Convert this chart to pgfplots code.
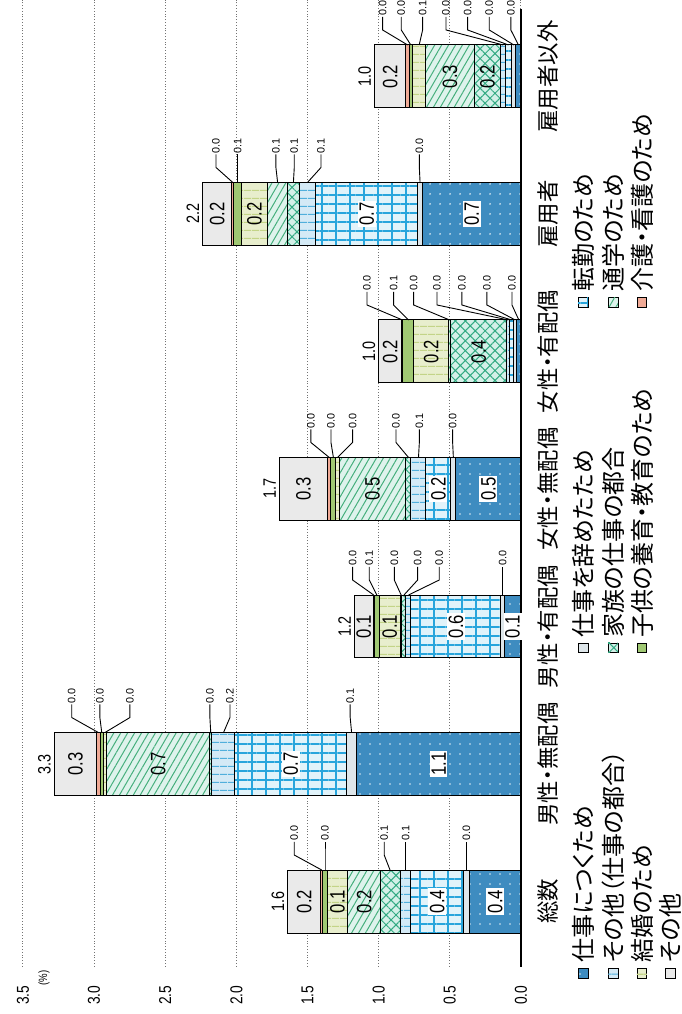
\documentclass[border=0pt]{standalone}
\usepackage{fontspec}
\setmainfont{Liberation Sans}[FakeStretch=0.8]
\newfontfamily\jp{Noto Sans CJK JP}[RawFeature=+palt]
\newfontfamily\nf{Liberation Sans}
\usepackage{pgfplots}
\usepackage{pgfplotstable}
\pgfplotsset{compat=1.18}
\usetikzlibrary{patterns.meta}

\definecolor{cA}{RGB}{62,140,192}
\definecolor{cB}{RGB}{222,230,234}
\definecolor{cC}{RGB}{225,243,250}
\definecolor{cCl}{RGB}{40,165,220}
\definecolor{cD}{RGB}{212,234,246}
\definecolor{cDl}{RGB}{80,175,220}
\definecolor{cE}{RGB}{212,240,232}
\definecolor{cEl}{RGB}{50,170,130}
\definecolor{cF}{RGB}{222,243,236}
\definecolor{cFl}{RGB}{70,175,125}
\definecolor{cG}{RGB}{232,238,205}
\definecolor{cGl}{RGB}{195,212,135}
\definecolor{cH}{RGB}{160,200,115}
\definecolor{cI}{RGB}{240,170,150}
\definecolor{cJ}{RGB}{234,234,234}

\tikzset{
  sA/.style={fill=cA, draw=black, line width=0.5pt, postaction={pattern={Dots[distance=5pt, radius=0.45pt]}, pattern color=white!80!cA}},
  sB/.style={fill=cB, draw=black, line width=0.5pt},
  sC/.style={fill=cC, draw=black, line width=0.5pt, postaction={pattern={Lines[angle=0, distance=4.5pt, line width=0.9pt]}, pattern color=cCl}, postaction={pattern={Lines[angle=90, distance=7pt, line width=0.9pt]}, pattern color=cCl}},
  sD/.style={fill=cD, draw=black, line width=0.5pt, postaction={pattern={Lines[angle=0, distance=4pt, line width=0.5pt]}, pattern color=cDl}},
  sE/.style={fill=cE, draw=black, line width=0.5pt, postaction={pattern={Hatch[angle=45, distance=3.5pt, line width=0.5pt]}, pattern color=cEl}},
  sF/.style={fill=cF, draw=black, line width=0.5pt, postaction={pattern={Lines[angle=60, distance=3pt, line width=0.5pt]}, pattern color=cFl}},
  sG/.style={fill=cG, draw=black, line width=0.5pt, postaction={pattern={Lines[angle=0, distance=4pt, line width=0.6pt]}, pattern color=cGl}},
  sH/.style={fill=cH, draw=black, line width=0.5pt},
  sI/.style={fill=cI, draw=black, line width=0.5pt},
  sJ/.style={fill=cJ, draw=black, line width=0.5pt},
}

\pgfplotstableread{
y  s1    s2    s3    s4    s5    s6    s7    s8    s9    s10
0  0.363 0.040 0.370 0.075 0.136 0.234 0.141 0.035 0.012 0.234
1  1.155 0.070 0.785 0.164 0.012 0.726 0.023 0.023 0.024 0.298
2  0.117 0.024 0.632 0.035 0.028 0.012 0.148 0.035 0.007 0.133
3  0.457 0.035 0.176 0.105 0.035 0.469 0.023 0.035 0.023 0.340
4  0.030 0.020 0.030 0.018 0.398 0.012 0.246 0.075 0.007 0.164
5  0.691 0.035 0.715 0.117 0.082 0.140 0.183 0.056 0.012 0.206
6  0.035 0.030 0.045 0.031 0.187 0.340 0.094 0.023 0.023 0.222
}\data

\newcommand\vf{\fontsize{10.4}{11}\selectfont}
\newcommand\lf{\nf\fontsize{5.4}{6}\selectfont}
\newcommand\tf{\fontsize{9}{10}\selectfont}
\tikzset{inlab/.style={rotate=90, font=\vf, inner sep=0.8pt}}
% these are used after the axis, in a scope whose units are the axis units
\newcommand\inl[3]{\node[inlab] at (#2,#1) {#3};}
\newcommand\inw[3]{\node[inlab, fill=white] at (#2,#1) {#3};}
\newcommand\ld[4]{\draw[line width=0.45pt] (#3,#1+0.229) -- (#2,#1+0.338) -- (#2,#1+0.433) node[rotate=90, anchor=west, font=\lf, inner sep=0.4pt] {#4};}
\newcommand\tot[3]{\node[rotate=90, anchor=south, font=\tf, inner sep=1.5pt] at (#2,#1) {#3};}
% legend key (inside the axis): style, row x, column y(icon centre), text y, text
\newcommand\lgk[5]{\draw[#1, line width=0.4pt] (axis cs:#2+0.035,#3-0.036) rectangle (axis cs:#2-0.035,#3+0.036);
  \node[rotate=90, anchor=west, font=\jp\fontsize{12}{13}\selectfont, inner sep=0pt] at (axis cs:#2,#4) {#5};}

\begin{document}
\begin{tikzpicture}
\begin{axis}[
  xbar stacked,
  scale only axis,
  width=249pt, height=483.25pt,
  x dir=reverse,
  xmin=0, xmax=3.5,
  ymin=-0.473, ymax=6.556,
  enlargelimits=false,
  clip=false,
  bar width=0.458,
  axis line style={draw=none},
  tick style={draw=none},
  xtick={0,0.5,...,3.5},
  scaled x ticks=false,
  xmajorgrids,
  major grid style={black!55, densely dotted, line width=0.5pt},
  xticklabel style={rotate=90, anchor=east, font=\fontsize{8.6}{9}\selectfont, /pgf/number format/.cd, fixed, fixed zerofill, precision=1, assume math mode=true},
  xticklabel shift=6pt,
  ytick={0,...,6},
  yticklabels={総数,男性・無配偶,男性・有配偶,女性・無配偶,女性・有配偶,雇用者,雇用者以外},
  yticklabel pos=right,
  yticklabel style={rotate=90, anchor=north, font=\jp\fontsize{11.2}{12}\selectfont},
  yticklabel shift=5pt,
]
\addplot[sA] table[x=s1, y=y] {\data};
\addplot[sB] table[x=s2, y=y] {\data};
\addplot[sC] table[x=s3, y=y] {\data};
\addplot[sD] table[x=s4, y=y] {\data};
\addplot[sE] table[x=s5, y=y] {\data};
\addplot[sF] table[x=s6, y=y] {\data};
\addplot[sG] table[x=s7, y=y] {\data};
\addplot[sH] table[x=s8, y=y] {\data};
\addplot[sI] table[x=s9, y=y] {\data};
\addplot[sJ] table[x=s10, y=y] {\data};

\node[rotate=90, font=\fontsize{6}{7}\selectfont] at (axis cs:3.352,-0.556) {(\%)};

% legend
\lgk{sA}{-0.436}{-0.520}{-0.447}{仕事につくため}
\lgk{sB}{-0.436}{1.844}{1.916}{仕事を辞めたため}
\lgk{sC}{-0.436}{4.360}{4.433}{転勤のため}
\lgk{sD}{-0.647}{-0.520}{-0.447}{その他（仕事の都合）}
\lgk{sE}{-0.647}{1.844}{1.916}{家族の仕事の都合}
\lgk{sF}{-0.647}{4.360}{4.433}{通学のため}
\lgk{sG}{-0.850}{-0.520}{-0.447}{結婚のため}
\lgk{sH}{-0.850}{1.844}{1.916}{子供の養育・教育のため}
\lgk{sI}{-0.850}{4.360}{4.433}{介護・看護のため}
\lgk{sJ}{-1.047}{-0.520}{-0.447}{その他}

\coordinate (O) at (axis cs:0,0);
\coordinate (bbA) at (axis cs:3.661,6.556);
\coordinate (bbB) at (axis cs:-1.131,-0.818);
\end{axis}

% value labels, on top of the bars; scope units = axis units (x reversed)
\begin{scope}[shift={(O)}, x={(-71.1429pt,0pt)}, y={(0pt,68.7509pt)}]
\draw[black, line width=0.7pt] (0,-0.473) -- (0,6.487);
% 総数
\inw{0}{0.18}{0.4} \inw{0}{0.588}{0.4} \inl{0}{1.101}{0.2} \inl{0}{1.289}{0.1} \inl{0}{1.523}{0.2}
\ld{0}{1.593}{1.400}{0.0} \ld{0}{1.377}{1.377}{0.0} \ld{0}{0.961}{0.92}{0.1} \ld{0}{0.810}{0.810}{0.1} \ld{0}{0.384}{0.384}{0.0}
\tot{0}{1.640}{1.6}
% 男性・無配偶
\inw{1}{0.578}{1.1} \inw{1}{1.618}{0.7} \inl{1}{2.549}{0.7} \inl{1}{3.131}{0.3}
\ld{1}{3.157}{2.970}{0.0} \ld{1}{2.959}{2.946}{0.0} \ld{1}{2.748}{2.923}{0.0} \ld{1}{2.186}{2.180}{0.0} \ld{1}{2.045}{2.09}{0.2} \ld{1}{1.20}{1.19}{0.1}
\tot{1}{3.280}{3.3}
% 男性・有配偶
\inw{2}{0.059}{0.1} \inw{2}{0.457}{0.6} \inl{2}{0.922}{0.1} \inl{2}{1.105}{0.1}
\ld{2}{1.183}{1.035}{0.0} \ld{2}{1.066}{1.013}{0.1} \ld{2}{0.890}{0.842}{0.0} \ld{2}{0.726}{0.822}{0.0} \ld{2}{0.574}{0.790}{0.0} \ld{2}{0.129}{0.129}{0.0}
\tot{2}{1.171}{1.2}
% 女性・無配偶
\inw{3}{0.229}{0.5} \inw{3}{0.58}{0.2} \inl{3}{1.043}{0.5} \inl{3}{1.528}{0.3}
\ld{3}{1.476}{1.347}{0.0} \ld{3}{1.335}{1.318}{0.0} \ld{3}{1.183}{1.289}{0.0} \ld{3}{0.878}{0.790}{0.0} \ld{3}{0.714}{0.720}{0.1} \ld{3}{0.480}{0.475}{0.0}
\tot{3}{1.698}{1.7}
% 女性・有配偶
\inl{4}{0.297}{0.4} \inl{4}{0.631}{0.2} \inl{4}{0.918}{0.2}
\ld{4}{1.082}{0.833}{0.0} \ld{4}{0.895}{0.79}{0.1} \ld{4}{0.754}{0.502}{0.0} \ld{4}{0.590}{0.089}{0.0} \ld{4}{0.415}{0.065}{0.0} \ld{4}{0.239}{0.04}{0.0} \ld{4}{0.063}{0.015}{0.0}
\tot{4}{1.000}{1.0}
% 雇用者
\inw{5}{0.346}{0.7} \inw{5}{1.084}{0.7} \inl{5}{1.872}{0.2} \inl{5}{2.134}{0.2}
\ld{5}{2.143}{2.025}{0.0} \ld{5}{1.991}{1.991}{0.1} \ld{5}{1.722}{1.71}{0.1} \ld{5}{1.593}{1.599}{0.1} \ld{5}{1.405}{1.50}{0.1} \ld{5}{0.714}{0.709}{0.0}
\tot{5}{2.237}{2.2}
% 雇用者以外
\inl{6}{0.235}{0.2} \inl{6}{0.498}{0.3} \inl{6}{0.919}{0.2}
\ld{6}{0.972}{0.797}{0.0} \ld{6}{0.841}{0.774}{0.0} \ld{6}{0.691}{0.715}{0.1} \ld{6}{0.527}{0.126}{0.0} \ld{6}{0.375}{0.088}{0.0} \ld{6}{0.223}{0.05}{0.0} \ld{6}{0.071}{0.018}{0.0}
\tot{6}{1.030}{1.0}
\end{scope}

\pgfresetboundingbox
\useasboundingbox (bbA) rectangle (bbB);
\end{tikzpicture}
\end{document}
